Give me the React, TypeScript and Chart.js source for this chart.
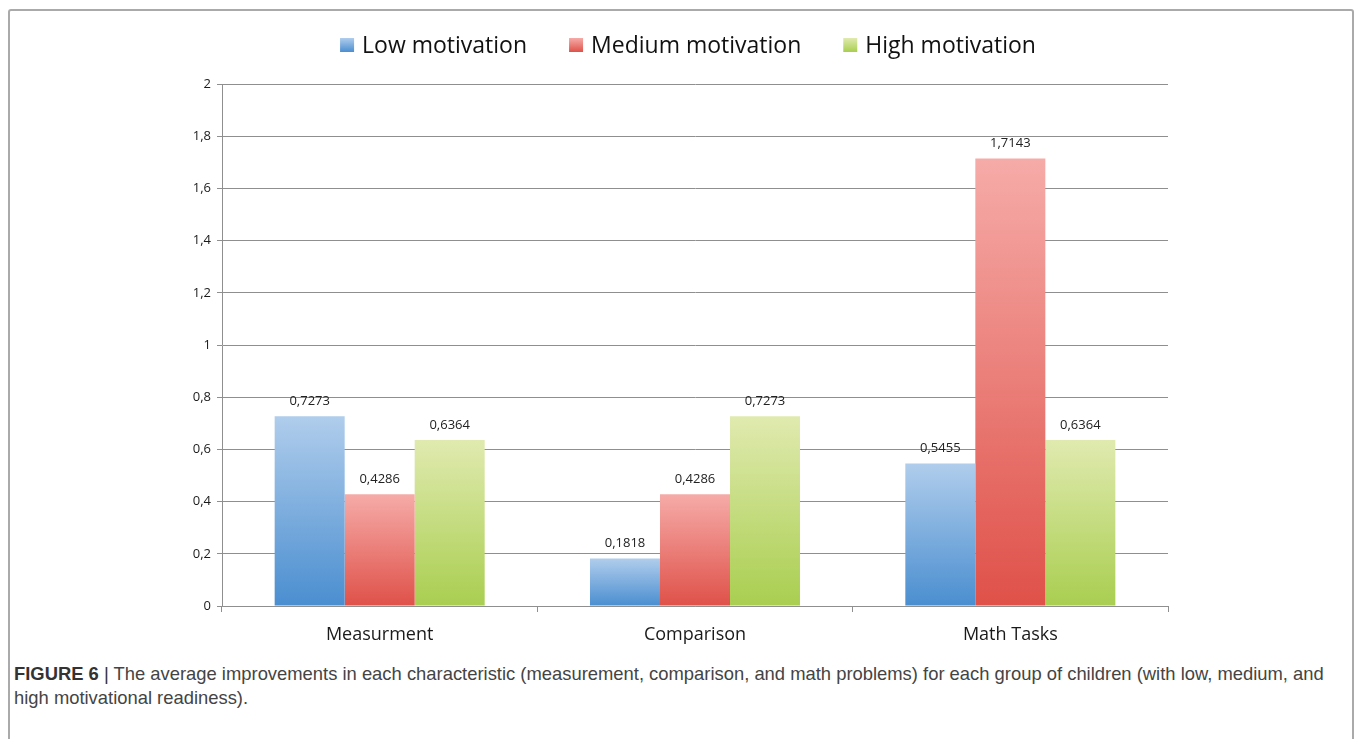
import React, { useEffect, useRef } from "react";
import { Chart, registerables } from "chart.js";

Chart.register(...registerables);

const categories = ["Measurment", "Comparison", "Math Tasks"];
const seriesNames = ["Low motivation", "Medium motivation", "High motivation"];
const lowValues = [0.7273, 0.1818, 0.5455];
const mediumValues = [0.4286, 0.4286, 1.7143];
const highValues = [0.6364, 0.7273, 0.6364];
const yTicks = [0, 0.2, 0.4, 0.6, 0.8, 1, 1.2, 1.4, 1.6, 1.8, 2];

// light (top) and dark (bottom) gradient stops for each series
const gradientStops: [string, string][] = [
  ["#B0CDEC", "#4A8ED0"],
  ["#F6ABA8", "#DF5149"],
  ["#E0EAAF", "#A9CE50"],
];

const commaNumber = (v: number) => String(v).replace(".", ",");

const barFill = (idx: number) => (ctx: any) => {
  const [light, dark] = gradientStops[idx];
  const chart = ctx.chart;
  if (!chart.chartArea || ctx.type !== "data") return dark;
  const y = chart.scales.y;
  const top = y.getPixelForValue(ctx.raw);
  const bottom = y.getPixelForValue(0);
  const g = chart.ctx.createLinearGradient(0, top, 0, bottom);
  g.addColorStop(0, light);
  g.addColorStop(1, dark);
  return g;
};

const valueLabels = {
  id: "valueLabels",
  afterDatasetsDraw(chart: any) {
    const c = chart.ctx;
    c.save();
    c.font = "13px 'Open Sans', sans-serif";
    c.fillStyle = "#222";
    c.textAlign = "center";
    c.textBaseline = "middle";
    chart.data.datasets.forEach((ds: any, i: number) => {
      const meta = chart.getDatasetMeta(i);
      meta.data.forEach((bar: any, j: number) => {
        c.fillText(commaNumber(ds.data[j]), bar.x, bar.y - 15);
      });
    });
    c.restore();
  },
};

const topLegend = {
  id: "topLegend",
  afterDraw(chart: any) {
    const c = chart.ctx;
    c.save();
    c.font = "23px 'Open Sans', sans-serif";
    c.textBaseline = "middle";
    const box = 14;
    const textGap = 8;
    const itemGap = 42;
    const items = chart.data.datasets.map((ds: any) => ds.label as string);
    const widths = items.map((t: string) => box + textGap + c.measureText(t).width);
    const total = widths.reduce((a: number, b: number) => a + b, 0) + itemGap * (items.length - 1);
    let x = 688 - total / 2;
    const cy = 45;
    items.forEach((t: string, i: number) => {
      const [light, dark] = gradientStops[i];
      const g = c.createLinearGradient(0, cy - box / 2, 0, cy + box / 2);
      g.addColorStop(0, light);
      g.addColorStop(1, dark);
      c.fillStyle = g;
      c.fillRect(x, cy - box / 2, box, box);
      c.fillStyle = "#111";
      c.fillText(t, x + box + textGap, cy + 1);
      x += widths[i] + itemGap;
    });
    c.restore();
  },
};

export default function App() {
  const canvasRef = useRef<HTMLCanvasElement | null>(null);

  useEffect(() => {
    if (!canvasRef.current) return;
    const gridColor = "#8f8f8f";
    const chart = new Chart(canvasRef.current, {
      type: "bar",
      data: {
        labels: categories,
        datasets: [lowValues, mediumValues, highValues].map((vals, i) => ({
          label: seriesNames[i],
          data: vals,
          backgroundColor: barFill(i),
          borderWidth: 0,
          categoryPercentage: 0.666,
          barPercentage: 1,
        })),
      },
      options: {
        responsive: false,
        animation: false,
        layout: { padding: { top: 84, left: 162, right: 186, bottom: 10 } },
        plugins: {
          legend: { display: false },
          tooltip: { enabled: false },
        },
        scales: {
          x: {
            afterFit: (s: any) => {
              s.height = 44;
            },
            grid: {
              offset: true,
              drawOnChartArea: false,
              drawTicks: true,
              tickLength: 6,
              color: gridColor,
            },
            border: { color: gridColor, width: 1 },
            ticks: {
              color: "#1a1a1a",
              font: { family: "'Open Sans', sans-serif", size: 18 },
              padding: 12,
            },
          },
          y: {
            min: 0,
            max: 2,
            afterFit: (s: any) => {
              s.width = 60;
            },
            afterBuildTicks: (s: any) => {
              s.ticks = yTicks.map((v) => ({ value: v }));
            },
            grid: {
              color: gridColor,
              lineWidth: 1,
              tickLength: 5,
            },
            border: { color: gridColor, width: 1 },
            ticks: {
              color: "#1a1a1a",
              font: { family: "'Open Sans', sans-serif", size: 13 },
              padding: 6,
              callback: (v: any) => commaNumber(Math.round(Number(v) * 10) / 10),
            },
          },
        },
      },
      plugins: [valueLabels, topLegend],
    });
    return () => chart.destroy();
  }, []);

  return (
    <div
      style={{
        position: "fixed",
        left: 0,
        top: 0,
        width: 1354,
        height: 739,
        overflow: "hidden",
        background: "#fff",
      }}
    >
      <div
        style={{
          position: "absolute",
          left: 8,
          top: 9,
          width: 1342,
          height: 760,
          border: "2px solid #aaaaaa",
          borderRadius: 3,
        }}
      />
      <canvas
        ref={canvasRef}
        width={1354}
        height={660}
        style={{ position: "absolute", left: 0, top: 0 }}
      />
      <div
        style={{
          position: "absolute",
          left: 14,
          top: 662,
          width: 1330,
          fontFamily: "'Liberation Sans', Arial, sans-serif",
          fontSize: 18.4,
          lineHeight: "24px",
          color: "#444",
          whiteSpace: "nowrap",
        }}
      >
        <div>
          <span style={{ fontWeight: "bold", color: "#333" }}>FIGURE 6</span>
          <span style={{ color: "#333" }}> | </span>
          The average improvements in each characteristic (measurement, comparison, and math problems) for each group of children (with low, medium, and
        </div>
        <div>high motivational readiness).</div>
      </div>
    </div>
  );
}
